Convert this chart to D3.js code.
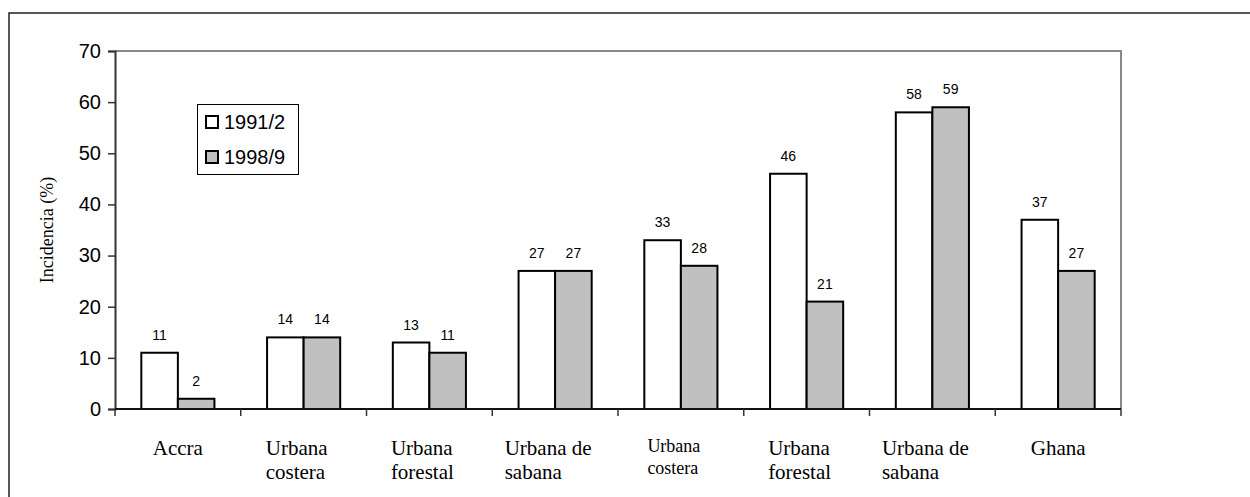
<!DOCTYPE html>
<html>
<head>
<meta charset="utf-8">
<script src="https://cdn.jsdelivr.net/npm/d3@7"></script>
<style>
  html, body { margin: 0; padding: 0; background: #fff; }
  svg { display: block; }
</style>
</head>
<body>
<svg id="chart" width="1250" height="497"></svg>
<script>
// ---- data ----
const categories = ["Accra", "Urbana\ncostera", "Urbana\nforestal", "Urbana de\nsabana",
                    "Urbana\ncostera", "Urbana\nforestal", "Urbana de\nsabana", "Ghana"];
const seriesNames = ["1991/2", "1998/9"];
const values1991 = [11, 14, 13, 27, 33, 46, 58, 37];
const values1998 = [2, 14, 11, 27, 28, 21, 59, 27];
const yTicks = [0, 10, 20, 30, 40, 50, 60, 70];
const yTitle = "Incidencia (%)";

const seriesValues = [values1991, values1998];
const colors = ["#ffffff", "#c0c0c0"];
const serif = "'Liberation Serif', 'Times New Roman', 'DejaVu Serif', serif";
const sans = "'Liberation Sans', Arial, sans-serif";

const svg = d3.select("#chart");

// outer border (clipped on right/bottom like the reference)
svg.append("rect").attr("x", 9).attr("y", 13).attr("width", 1260).attr("height", 520)
  .attr("fill", "none").attr("stroke", "#222").attr("stroke-width", 1.5);

const plot = { left: 115, top: 51, right: 1121, bottom: 409 };

const x0 = d3.scaleBand().domain(d3.range(categories.length))
  .range([plot.left, plot.right]).padding(0);
const x1 = d3.scaleBand().domain(seriesNames).range([0, x0.bandwidth()])
  .paddingInner(0).paddingOuter(0.72);
const y = d3.scaleLinear().domain([0, 70]).range([plot.bottom, plot.top]);

// plot frame top/right (grey)
svg.append("path")
  .attr("d", `M${plot.left},${plot.top}H${plot.right}V${plot.bottom}`)
  .attr("fill", "none").attr("stroke", "#888").attr("stroke-width", 2);

// bars
const groups = svg.append("g").selectAll("g").data(categories).join("g")
  .attr("transform", (d, i) => `translate(${x0(i)},0)`);
groups.each(function(d, i) {
  const g = d3.select(this);
  seriesNames.forEach((s, k) => {
    const v = seriesValues[k][i];
    g.append("rect")
      .attr("x", x1(s)).attr("y", y(v))
      .attr("width", x1.bandwidth()).attr("height", y(0) - y(v))
      .attr("fill", colors[k]).attr("stroke", "#000").attr("stroke-width", 2);
    g.append("text")
      .attr("x", x1(s) + x1.bandwidth() / 2).attr("y", y(v) - 13)
      .attr("text-anchor", "middle")
      .attr("font-family", sans)
      .attr("font-size", 14).attr("fill", "#000")
      .text(v);
  });
});

// y axis
const yAxis = d3.axisLeft(y).tickValues(yTicks).tickSize(7).tickPadding(7);
const gy = svg.append("g").attr("transform", `translate(${plot.left},0)`).call(yAxis);
gy.select(".domain").attr("stroke", "#333").attr("stroke-width", 2);
gy.selectAll(".tick line").attr("stroke", "#333").attr("stroke-width", 1.5);
gy.selectAll(".tick text")
  .attr("font-family", sans)
  .attr("font-size", 20).attr("fill", "#000");

// x axis (line + ticks at band boundaries)
svg.append("line").attr("x1", plot.left).attr("x2", plot.right)
  .attr("y1", plot.bottom).attr("y2", plot.bottom)
  .attr("stroke", "#111").attr("stroke-width", 2);
const boundaries = d3.range(categories.length + 1).map(i =>
  i < categories.length ? x0(i) : x0(categories.length - 1) + x0.bandwidth());
svg.append("g").selectAll("line").data(boundaries).join("line")
  .attr("x1", d => d).attr("x2", d => d)
  .attr("y1", plot.bottom).attr("y2", plot.bottom + 7)
  .attr("stroke", "#333").attr("stroke-width", 1.5);

// category labels
categories.forEach((c, i) => {
  const lines = c.split("\n");
  const small = i === 4;
  const fs = small ? 18 : 21;
  const lh = small ? 22 : 24;
  const cx = x0(i) + x0.bandwidth() / 2;
  const t = svg.append("text")
    .attr("font-family", serif)
    .attr("font-size", fs).attr("fill", "#000")
    .attr("y", small ? 452 : 455);
  lines.forEach((ln, j) => {
    t.append("tspan").attr("dy", j === 0 ? 0 : lh).text(ln);
  });
  if (lines.length === 1) {
    t.attr("text-anchor", "middle");
    t.selectAll("tspan").attr("x", cx);
  } else {
    let maxW = 0;
    t.selectAll("tspan").each(function() {
      maxW = Math.max(maxW, this.getComputedTextLength());
    });
    const left = cx - maxW / 2 - 7;
    t.attr("text-anchor", "start");
    t.selectAll("tspan").attr("x", left);
  }
});

// y axis title
svg.append("text")
  .attr("transform", `translate(53,${(plot.top + plot.bottom) / 2}) rotate(-90)`)
  .attr("text-anchor", "middle")
  .attr("font-family", serif)
  .attr("font-size", 18).attr("fill", "#000")
  .text(yTitle);

// legend
const lg = svg.append("g");
lg.append("rect").attr("x", 197.5).attr("y", 104.5).attr("width", 101).attr("height", 70)
  .attr("fill", "#fff").attr("stroke", "#000").attr("stroke-width", 1);
seriesNames.forEach((s, k) => {
  const cy = 122 + k * 35;
  lg.append("rect").attr("x", 206).attr("y", cy - 6).attr("width", 12).attr("height", 12)
    .attr("fill", colors[k]).attr("stroke", "#000").attr("stroke-width", 2);
  lg.append("text").attr("x", 224).attr("y", cy + 7)
    .attr("font-family", sans)
    .attr("font-size", 20).attr("fill", "#000")
    .text(s);
});
</script>
</body>
</html>
